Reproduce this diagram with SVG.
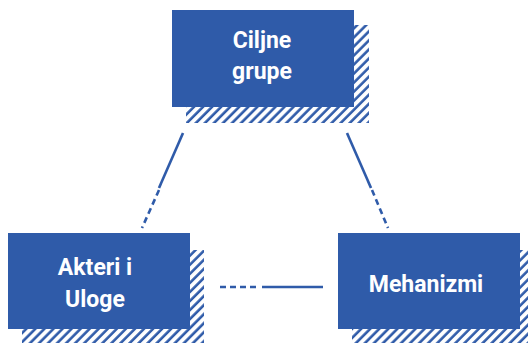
<svg xmlns="http://www.w3.org/2000/svg" width="528" height="343" viewBox="0 0 528 343">
  <defs>
    <pattern id="hatch" patternUnits="userSpaceOnUse" width="6.4" height="6.4" patternTransform="rotate(45)">
      <line x1="1.5" y1="0" x2="1.5" y2="6.4" stroke="#2f5ba9" stroke-width="2.6"/>
    </pattern>
  </defs>
  <style>
    .box { fill: #2f5ba9; }
    .shadow { fill: url(#hatch); }
    .label { font-family: Roboto, "Liberation Sans", sans-serif; font-weight: bold; font-size: 23px; fill: #ffffff; text-anchor: middle; }
    .conn { stroke: #2f5ba9; stroke-width: 2.6; fill: none; }
    .dash { stroke-dasharray: 6 4; }
  </style>
  <rect width="528" height="343" fill="#ffffff"/>
  <g id="connectors">
    <line class="conn" x1="183" y1="133" x2="159" y2="188"/>
    <line class="conn dash" x1="159" y1="190" x2="142" y2="228"/>
    <line class="conn" x1="347" y1="133" x2="371" y2="188"/>
    <line class="conn dash" x1="372" y1="190" x2="388" y2="228"/>
    <line class="conn dash" x1="220" y1="287" x2="258" y2="287"/>
    <line class="conn" x1="262" y1="287" x2="323" y2="287"/>
  </g>
  <g id="ciljne-grupe">
    <rect class="shadow" x="186" y="25" width="183" height="98"/>
    <rect class="box" x="172" y="10" width="182" height="97"/>
    <text class="label" x="262" y="48">Ciljne</text>
    <text class="label" x="262" y="79">grupe</text>
  </g>
  <g id="akteri-i-uloge">
    <rect class="shadow" x="22" y="250" width="182" height="97"/>
    <rect class="box" x="8" y="233" width="182" height="96"/>
    <text class="label" x="95" y="275">Akteri i</text>
    <text class="label" x="95" y="307">Uloge</text>
  </g>
  <g id="mehanizmi">
    <rect class="shadow" x="352" y="250" width="182" height="97"/>
    <rect class="box" x="338" y="233" width="182" height="96"/>
    <text class="label" x="426" y="292">Mehanizmi</text>
  </g>
</svg>
